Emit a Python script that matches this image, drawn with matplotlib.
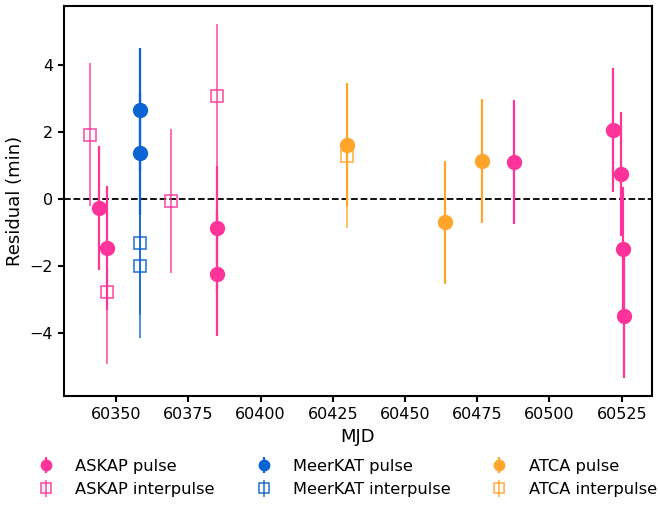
import matplotlib
matplotlib.use("Agg")
import matplotlib.pyplot as plt
import numpy as np

# ASKAP
askap_pulse_mjd = [60344.1, 60346.9, 60385.0, 60385.0, 60487.7, 60522.0, 60524.8, 60525.4, 60525.8]
askap_pulse_res = [-0.27, -1.47, -0.87, -2.25, 1.11, 2.07, 0.75, -1.50, -3.50]
askap_pulse_err = [1.85, 1.85, 1.85, 1.85, 1.85, 1.85, 1.85, 1.85, 1.85]
askap_inter_mjd = [60341.0, 60347.0, 60369.0, 60385.0]
askap_inter_res = [1.93, -2.78, -0.06, 3.08]
askap_inter_err = [2.15, 2.15, 2.15, 2.15]

# MeerKAT
meerkat_pulse_mjd = [60358.3, 60358.3]
meerkat_pulse_res = [2.66, 1.37]
meerkat_pulse_err = [1.85, 1.85]
meerkat_inter_mjd = [60358.3, 60358.3]
meerkat_inter_res = [-1.33, -2.02]
meerkat_inter_err = [2.15, 2.15]

# ATCA
atca_pulse_mjd = [60430.0, 60463.8, 60476.6]
atca_pulse_res = [1.63, -0.70, 1.14]
atca_pulse_err = [1.85, 1.85, 1.85]
atca_inter_mjd = [60430.0]
atca_inter_res = [1.28]
atca_inter_err = [2.15]

pink = "#FF3399"
blue = "#0A64D4"
orange = "#FFA52A"

plt.rcParams["font.size"] = 11.5

fig, ax = plt.subplots(figsize=(6.6, 5.05), dpi=100)

sets = [
    ("ASKAP", pink, askap_pulse_mjd, askap_pulse_res, askap_pulse_err,
     askap_inter_mjd, askap_inter_res, askap_inter_err),
    ("MeerKAT", blue, meerkat_pulse_mjd, meerkat_pulse_res, meerkat_pulse_err,
     meerkat_inter_mjd, meerkat_inter_res, meerkat_inter_err),
    ("ATCA", orange, atca_pulse_mjd, atca_pulse_res, atca_pulse_err,
     atca_inter_mjd, atca_inter_res, atca_inter_err),
]

for name, col, pm, pr, pe, im, ir, ie in sets:
    ax.errorbar(pm, pr, yerr=pe, fmt="o", color=col, ms=10, elinewidth=1.6,
                capsize=0, label=f"{name} pulse", zorder=3)
    ax.errorbar(im, ir, yerr=ie, fmt="s", color=col, mfc="none", mec=col, ms=8.7,
                mew=1.2, elinewidth=1.2, alpha=0.85, capsize=0,
                label=f"{name} interpulse", zorder=3)

ax.axhline(0, color="black", linestyle="--", linewidth=1.3, zorder=1)

ax.set_xlim(60332, 60535.5)
ax.set_ylim(-5.9, 5.78)
ax.set_xticks([60350, 60375, 60400, 60425, 60450, 60475, 60500, 60525])
ax.set_yticks([-4, -2, 0, 2, 4])
ax.set_xlabel("MJD", fontsize=13)
ax.set_ylabel("Residual (min)", fontsize=13)
ax.tick_params(width=1.5, length=4.5, labelsize=11.5)
for s in ax.spines.values():
    s.set_linewidth(1.5)

fig.legend(*ax.get_legend_handles_labels(), loc="upper center",
           bbox_to_anchor=(0.52, 0.12), ncol=3, frameon=False, fontsize=11.7,
           markerscale=0.75)

fig.subplots_adjust(left=0.097, right=0.988, top=0.988, bottom=0.216)
fig.savefig("out.png", dpi=100)
